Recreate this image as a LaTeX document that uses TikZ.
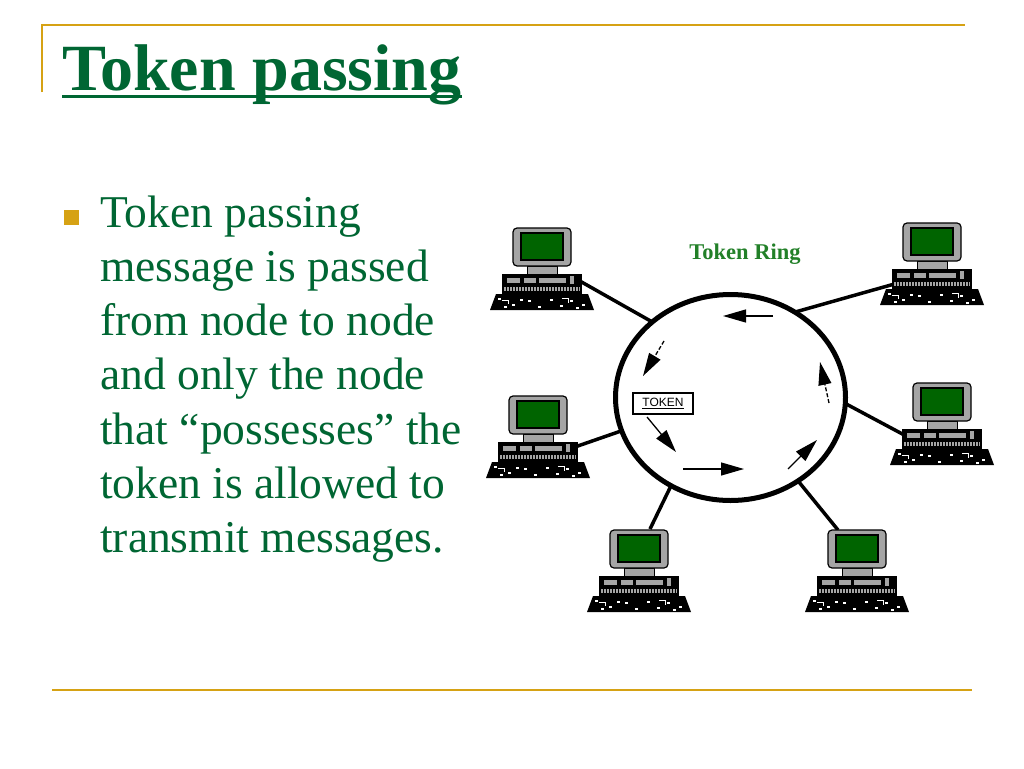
\documentclass[tikz,border=0pt]{standalone}
\usepackage{fontspec}
\setmainfont{Liberation Serif}
\newfontfamily\sansf{Liberation Sans}
\usetikzlibrary{arrows.meta,shapes.geometric,calc}
\definecolor{gold}{RGB}{214,162,20}
\definecolor{slidegreen}{RGB}{0,102,51}
\definecolor{ringgreen}{RGB}{34,128,40}
\definecolor{screengreen}{RGB}{0,100,0}
\definecolor{mongray}{RGB}{165,165,165}
\tikzset{
  rule/.style={gold, line width=2},
  bodyline/.style={anchor=base west, inner sep=0, text=slidegreen, font=\fontsize{45.5}{54}\selectfont},
  conn/.style={line width=3.5, black},
  flow/.style={line width=1.3, black, -{Triangle[length=23pt,width=13pt]}},
  dflow/.style={flow, dash pattern=on 4pt off 2pt},
  computer/.pic={
    % keyboard
    \fill[black] (-46,66) -- (46,66) -- (52,82) -- (-52,82) -- cycle;
    \foreach \xx/\yy in {-44/70,-30/76,-14/72,-4/78,8/71,18/77,28/72,40/76,-38/78,34/79,-22/71}
      \fill[white] (\xx,\yy) rectangle ++(2.5,2);
    \draw[white, line width=1] (-40,72) -- (-34,72) -- (-34,76);
    \draw[white, line width=1] (20,70) -- (26,70) -- (26,75);
    % system unit
    \fill[black] (-40,46) rectangle (40,66);
    \fill[mongray] (-35,50) rectangle (-22,55);
    \fill[mongray] (-18,50) rectangle (-6,55);
    \fill[mongray] (-3,50) rectangle (24,55);
    \fill[mongray] (28,48) rectangle (32,56);
    \fill[mongray] (-38,59) rectangle (38,63);
    \foreach \i in {-36,-33,...,36} \draw[black, line width=1] (\i,59) -- (\i,63);
    % monitor neck
    \draw[black, fill=mongray, line width=1] (-15,38) rectangle (15,46);
    % monitor
    \draw[black, fill=mongray, line width=1.2, rounded corners=4] (-29,0) rectangle (29,38);
    \draw[black, fill=screengreen, line width=1.5] (-21,5) rectangle (21,32);
  }
}
\begin{document}
\begin{tikzpicture}[x=1pt,y=-1pt]
\useasboundingbox (0,0) rectangle (1024,768);
\fill[white] (0,0) rectangle (1024,768);

% frame rules
\coordinate (r1a) at (42,25);
\coordinate (r1b) at (965,25);
\coordinate (r2b) at (42,92);
\coordinate (r3a) at (52,690);
\coordinate (r3b) at (972,690);
\draw[rule] (r2b) -- (r1a) -- (r1b);
\draw[rule] (r3a) -- (r3b);

% title
\node[anchor=base west, inner sep=0, text=slidegreen, font=\bfseries\fontsize{66}{72}\selectfont] (title) at (62,90) {Token passing};
\draw[slidegreen, line width=3] ($(title.base west)+(0,6.5)$) -- ($(title.base east)+(0,6.5)$);

% bullet text
\node[fill=gold, minimum size=15, inner sep=0] (bullet) at (71.5,217.5) {};
\node[bodyline] (l1) at (100,227) {Token passing};
\node[bodyline] (l2) at (100,281.3) {message is passed};
\node[bodyline] (l3) at (100,335.6) {from node to node};
\node[bodyline] (l4) at (100,389.9) {and only the node};
\node[bodyline] (l5) at (100,444.2) {that ``possesses'' the};
\node[bodyline] (l6) at (100,498.5) {token is allowed to};
\node[bodyline] (l7) at (100,552.8) {transmit messages.};

% ring
\node[ellipse, draw, line width=5, minimum width=230, minimum height=206, inner sep=0, outer sep=0] (ring) at (730.5,397.5) {};
\node[font=\bfseries\fontsize{22.5}{26}\selectfont, text=ringgreen] (ringlabel) at (745,254) {Token Ring};

% ports
\coordinate (ptl) at (578,280);
\coordinate (ptr) at (898,283);
\coordinate (pml) at (572,448);
\coordinate (pmr) at (908,437);
\coordinate (pbl) at (650,529);
\coordinate (pbr) at (838,530);

\draw[conn] (ptl) -- (ring.136);
\draw[conn] (ptr) -- (ring.53.6);
\draw[conn] (pml) -- (ring.197.5);
\draw[conn] (pmr) -- (ring.357);
\draw[conn] (pbl) -- (ring.236.5);
\draw[conn] (pbr) -- (ring.309);

% computers
\pic (ctl) at (542,228) {computer};
\pic (ctr) at (932,223) {computer};
\pic (cml) at (538,396) {computer};
\pic (cmr) at (942,383) {computer};
\pic (cbl) at (639,530) {computer};
\pic (cbr) at (857,530) {computer};

% token
\node[draw, line width=1.2, inner sep=2pt, minimum width=60, minimum height=21, font=\sansf\fontsize{12}{14}\selectfont] (token) at (663,403.5) {\underline{TOKEN}};

% flow arrows
\coordinate (a1s) at (773,316); \coordinate (a1e) at (723,316);
\coordinate (a2s) at (664,341); \coordinate (a2e) at (643,376);
\coordinate (a3s) at (647,417); \coordinate (a3e) at (676,452);
\coordinate (a4s) at (683,469); \coordinate (a4e) at (744,469);
\coordinate (a5s) at (788,469); \coordinate (a5e) at (817,440);
\coordinate (a6s) at (829,403); \coordinate (a6e) at (820,362);
\draw[flow] (a1s) -- (a1e);
\draw[dflow] (a2s) -- (a2e);
\draw[flow] (a3s) -- (a3e);
\draw[flow] (a4s) -- (a4e);
\draw[flow] (a5s) -- (a5e);
\draw[dflow] (a6s) -- (a6e);
\end{tikzpicture}
\end{document}
